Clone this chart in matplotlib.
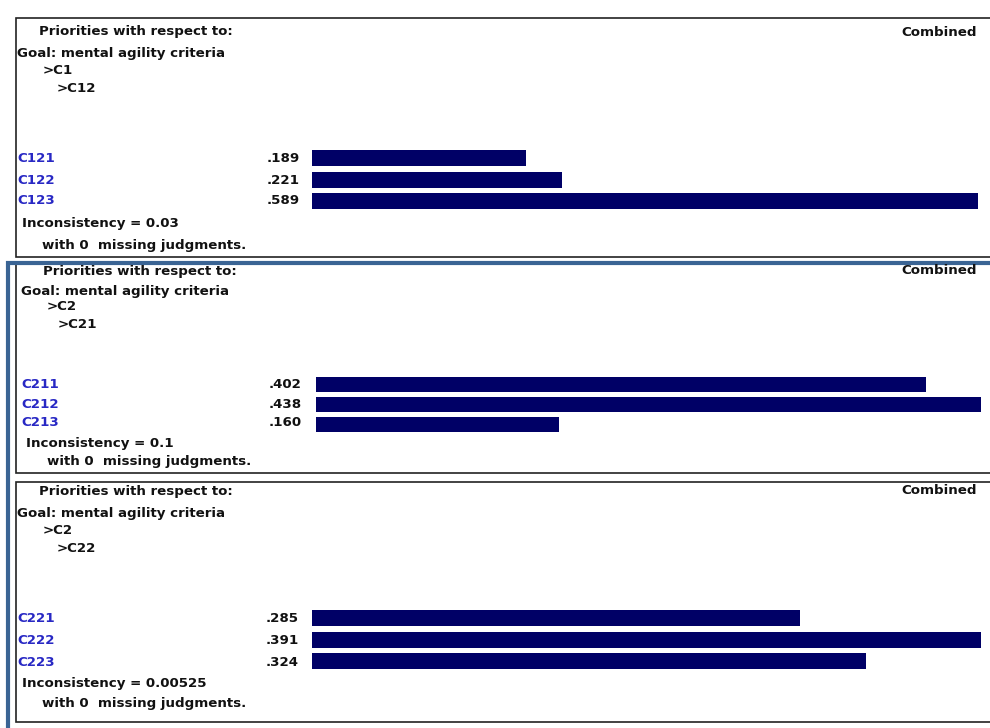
import matplotlib
matplotlib.use('Agg')
import matplotlib.pyplot as plt

# priorities for each node
parents = ['>C12', '>C21', '>C22']
grand = ['>C1', '>C2', '>C2']
labels1 = ['C121', 'C122', 'C123']
values1 = [0.189, 0.221, 0.589]
labels2 = ['C211', 'C212', 'C213']
values2 = [0.402, 0.438, 0.160]
labels3 = ['C221', 'C222', 'C223']
values3 = [0.285, 0.391, 0.324]
incons = ['0.03', '0.1', '0.00525']

W, H = 990, 728
fig = plt.figure(figsize=(W/100, H/100), dpi=100)
bg = fig.add_axes([0, 0, 1, 1])
bg.set_xlim(0, W)
bg.set_ylim(H, 0)
bg.axis('off')

plt.rcParams['font.family'] = ['DejaVu Sans']
fs = 9.6
navy = '#000066'
blue = '#2828c4'
txt = '#111111'

# layout per panel (pixels): box, bars, and text rows
panels = [
    dict(top=18, bot=257, x0=312, x1=978, r0=158.5, step=21.3, bh=16,
         ty=[32, 53, 71, 88], rows=[159, 180, 201], foot=[223, 245],
         tx=[39, 17, 43, 57], lx=17, vx=300, fx=[22, 42], cy=32,
         labels=labels1, values=values1),
    dict(top=262, bot=473, x0=316, x1=981, r0=384.5, step=20.0, bh=15,
         ty=[271, 291, 307, 324], rows=[385, 404, 423], foot=[443, 462],
         tx=[43, 21, 47, 58], lx=21, vx=302, fx=[26, 47], cy=271,
         labels=labels2, values=values2),
    dict(top=482, bot=722, x0=312, x1=981, r0=618.0, step=21.5, bh=16,
         ty=[491, 513, 531, 548], rows=[619, 640, 662], foot=[683, 704],
         tx=[39, 17, 43, 57], lx=17, vx=299, fx=[22, 42], cy=491,
         labels=labels3, values=values3),
]

def put(x, y, s, color=txt, ha='left'):
    bg.text(x, y, s, fontsize=fs, fontweight='bold', color=color,
            va='center', ha=ha)

for i, p in enumerate(panels):
    # box (no right edge)
    bg.plot([990, 16, 16, 990], [p['top'], p['top'], p['bot'], p['bot']],
            color='#222222', lw=1.2, solid_joinstyle='miter')
    head = ['Priorities with respect to:', 'Goal: mental agility criteria',
            grand[i], parents[i]]
    for s, x, y in zip(head, p['tx'], p['ty']):
        put(x, y, s)
    put(977, p['cy'], 'Combined', ha='right')

    n = len(p['values'])
    for k in range(n):
        put(p['lx'], p['rows'][k], p['labels'][k], color=blue)
        put(p['vx'], p['rows'][k], ('%.3f' % p['values'][k])[1:], ha='right')
    put(p['fx'][0], p['foot'][0], 'Inconsistency = ' + incons[i])
    put(p['fx'][1], p['foot'][1], 'with 0  missing judgments.')

    # bar axes
    ytop = p['r0'] - p['step'] / 2
    hgt = n * p['step']
    ax = fig.add_axes([p['x0'] / W, 1 - (ytop + hgt) / H,
                       (p['x1'] - p['x0']) / W, hgt / H])
    ax.barh(range(n), p['values'], height=p['bh'] / p['step'], color=navy,
            edgecolor='none')
    ax.set_xlim(0, max(p['values']))
    ax.set_ylim(n - 0.5, -0.5)
    ax.axis('off')

# blue outer frame around the lower panels
bg.plot([8, 8, 990], [728, 263, 263], color='#3a6494', lw=3,
        solid_joinstyle='miter')

fig.savefig('out.png', dpi=100)
